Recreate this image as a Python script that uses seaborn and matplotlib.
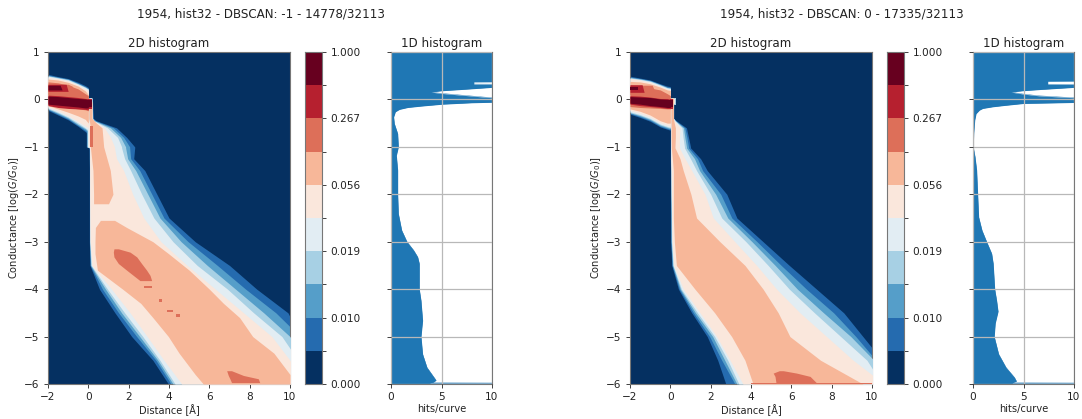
import numpy as np
import matplotlib
matplotlib.use("Agg")
import matplotlib.pyplot as plt
from matplotlib.colors import ListedColormap, to_hex
import seaborn as sns

# ---------- shared ----------
BAND_TICKS = ["0.000", "0.010", "0.019", "0.056", "0.267", "1.000"]
TITLES = ["1954, hist32 - DBSCAN: -1 - 14778/32113", "1954, hist32 - DBSCAN: 0 - 17335/32113"]
HEAD_X = [-2, -1.5, -1, -0.5, -0.15, 0]
TAIL_C = [.03, -.4, -.45, -.6, -.8, -1, -1.02, -1.25, -1.5, -2, -2.5, -3, -3.5, -4, -4.5, -5, -5.5, -6]

# ---------- left panel: upper blob, level -> (upper edge, lower edge) ----------
A_HEAD = {
    1: ([.53, .48, .44, .36, .29, .25], [-.23, -.33, -.43, -.57, -.68, -.75]),
    2: ([.51, .47, .43, .34, .27, .23], [-.21, -.31, -.41, -.55, -.65, -.72]),
    3: ([.50, .46, .42, .33, .26, .22], [-.20, -.29, -.39, -.53, -.62, -.68]),
    4: ([.49, .45, .41, .32, .25, .21], [-.18, -.27, -.37, -.50, -.60, -.65]),
    5: ([.47, .44, .39, .30, .22, .18], [-.16, -.24, -.34, -.47, -.56, -.60]),
    6: ([.43, .41, .36, .28, .18, .10], [-.13, -.20, -.27, -.35, -.42, -.50]),
    7: ([.37, .35, .30, .22, .12, .08], [-.10, -.15, -.17, -.20, -.22, -.24]),
    8: ([.09, .08, .06, .04, .02, .01], [-.13, -.17, -.19, -.20, -.21, -.22]),
    9: ([.07, .06, .04, .02, .01, .00], [-.10, -.12, -.14, -.16, -.18, -.18]),
}
# ---------- left panel: tail, level -> (left edge, right edge) ----------
A_TAIL = {
    1: ([0, 0, -.02, -.1, -.1, -.1, .04, .05, .05, .05, .05, .05, .08, .55, 1.32, 2.15, 3.2, 3.97],
        [.2, .25, .4, 1.4, 1.9, 2.3, 2.3, 2.25, 2.8, 3.4, 4.0, 5.3, 7.0, 8.35, 9.9, 10.5, 10.5, 10.5]),
    2: ([.01, .01, 0, -.08, -.08, -.08, .05, .05, .06, .06, .06, .06, .1, .7, 1.5, 2.4, 3.35, 4.1],
        [.19, .22, .35, 1.25, 1.75, 2.05, 2.05, 2.1, 2.55, 3.15, 3.75, 4.95, 6.4, 7.8, 9.3, 10.5, 10.5, 10.5]),
    3: ([.02, .02, .01, -.06, -.06, -.06, .06, .06, .06, .06, .07, .07, .12, .85, 1.65, 2.55, 3.45, 4.2],
        [.18, .21, .3, 1.1, 1.6, 1.85, 1.85, 1.95, 2.35, 2.95, 3.55, 4.6, 5.9, 7.3, 8.7, 10.0, 10.5, 10.5]),
    4: ([.03, .03, .02, -.04, -.04, -.04, .06, .06, .07, .07, .07, .08, .15, .95, 1.8, 2.7, 3.55, 4.3],
        [.17, .2, .27, .95, 1.45, 1.65, 1.65, 1.8, 2.1, 2.65, 3.25, 4.2, 5.4, 6.9, 8.2, 9.6, 10.4, 10.4]),
    5: ([.04, .04, .03, 0, 0, 0, .07, .07, .07, .07, .08, .09, .18, 1.15, 2.07, 2.92, 3.75, 4.63],
        [.16, .19, .25, .8, 1.1, 1.3, 1.3, 1.4, 1.75, 2.2, 2.75, 3.6, 4.9, 6.3, 7.7, 9.1, 10.0, 10.5]),
}
# free-standing patches: (level, conductance, left edge, right edge)
A_PATCHES = [
    (6, [-.05, -.4, -.5, -.6, -1, -1.5, -2, -2.2], [.03, .03, .07, .1, .1, .23, .26, .26], [.18, .18, .4, .68, .76, 1.09, 1.22, 1.0]),
    (6, [-2.55, -2.7, -3, -3.25, -3.6, -4, -4.3, -4.6, -5, -5.35, -5.8, -6],
        [.6, .35, .33, .33, .45, 1.7, 2.6, 3.2, 3.97, 4.5, 5.3, 5.7], [1.3, 1.9, 3.2, 3.97, 5.0, 6.0, 6.7, 7.5, 8.15, 9.2, 10, 10]),
    (7, [-.55, -1], [.07, .07], [.23, .23]),
    (7, [-3.15, -3.22, -3.32, -3.46, -3.6, -3.71, -3.82], [1.27, 1.24, 1.27, 1.49, 1.9, 2.23, 2.56], [1.49, 2.07, 2.4, 2.64, 2.89, 3.06, 3.14]),
    (7, [-3.94, -3.98], [2.76, 2.76], [3.14, 3.14]),
    (7, [-4.21, -4.27], [3.49, 3.49], [3.65, 3.65]),
    (7, [-4.44, -4.48], [3.88, 3.88], [4.2, 4.2]),
    (7, [-4.52, -4.58], [4.35, 4.35], [4.55, 4.55]),
    (7, [-5.72, -5.82, -5.89, -5.97], [6.86, 6.94, 7.02, 7.1], [7.1, 7.69, 8.43, 8.5]),
    (7, [.32, .28, .1], [-2, -2, -2], [-1.0, -.8, -.6]),
    (8, [.32, .17], [-2, -2], [-1.1, -1.0]),
    (9, [.30, .20], [-2, -2], [-1.4, -1.3]),
    (8, [.0, -.2], [0, 0], [.2, .2]),
    (9, [-.01, -.17], [0, 0], [.2, .2]),
]

# ---------- right panel ----------
B_HEAD = {
    1: ([.49, .45, .41, .33, .28, .27], [-.31, -.38, -.46, -.58, -.63, -.65]),
    2: ([.47, .44, .40, .32, .26, .25], [-.29, -.36, -.44, -.56, -.61, -.63]),
    3: ([.46, .43, .39, .31, .25, .24], [-.28, -.34, -.42, -.54, -.59, -.61]),
    4: ([.45, .42, .38, .30, .24, .23], [-.26, -.32, -.40, -.52, -.57, -.59]),
    5: ([.44, .41, .36, .28, .22, .21], [-.23, -.29, -.37, -.49, -.54, -.57]),
    6: ([.38, .37, .33, .26, .20, .19], [-.20, -.25, -.33, -.45, -.50, -.50]),
    7: ([.30, .28, .24, .20, .12, .08], [-.15, -.17, -.18, -.19, -.20, -.20]),
    8: ([.08, .07, .05, .02, .02, .00], [-.10, -.13, -.15, -.17, -.19, -.19]),
    9: ([.06, .05, .04, .01, .00, .00], [-.08, -.10, -.13, -.15, -.17, -.17]),
}
B_TAIL = {
    1: ([0, 0, 0, 0, 0, 0, 0, 0, .01, .01, .02, .02, .07, .4, 1.06, 1.83, 2.35, 2.75],
        [.16, .16, .3, .8, .9, 1.0, 1.0, 1.5, 1.83, 2.8, 3.3, 4.6, 5.9, 7.25, 8.6, 9.55, 10.5, 10.5]),
    2: ([.01, .01, .01, .01, .01, .01, .01, .01, .02, .02, .03, .03, .09, .45, 1.15, 1.95, 2.55, 3.2],
        [.16, .16, .27, .72, .82, .9, .9, 1.35, 1.6, 2.5, 3.05, 4.3, 5.5, 6.75, 8.1, 9.2, 10.2, 10.5]),
    3: ([.02, .02, .02, .02, .02, .02, .02, .02, .03, .03, .04, .05, .12, .5, 1.25, 2.1, 2.7, 3.3],
        [.16, .16, .25, .65, .72, .8, .8, 1.2, 1.45, 2.25, 2.85, 4.05, 5.2, 6.3, 7.6, 8.95, 10.1, 10.5]),
    4: ([.02, .02, .02, .02, .02, .02, .02, .02, .04, .05, .06, .07, .14, .55, 1.35, 2.2, 2.85, 3.4],
        [.16, .16, .23, .58, .63, .7, .7, 1.0, 1.3, 2.0, 2.55, 3.75, 4.85, 5.9, 7.15, 8.45, 9.75, 10.5]),
    5: ([.03, .03, .03, .03, .03, .03, .03, .03, .04, .05, .07, .09, .18, .64, 1.47, 2.3, 2.96, 3.6],
        [.15, .15, .2, .48, .45, .45, .45, .73, 1.06, 1.72, 2.13, 3.2, 4.28, 5.27, 6.43, 7.75, 9.07, 10.6]),
    6: ([.03, .03, .03, .04, .04, .05, .05, .1, .15, .15, .15, .2, .3, 1.22, 2.2, 3.04, 3.7, 4.1],
        [.15, .15, .17, .25, .25, .23, .23, .48, .64, 1.02, 1.3, 2.46, 3.7, 4.6, 5.35, 5.93, 7.45, 9.55]),
}
B_PATCHES = [
    (7, [-5.72, -5.77, -5.84, -5.98], [5.4, 5.1, 5.19, 5.24], [5.6, 6.26, 6.93, 7.26]),
    (7, [-5.97, -6], [4.0, 4.0], [10, 10]),
    (7, [.3, .1], [-2, -2], [-.9, -.7]),
    (8, [.31, .15], [-2, -2], [-1.4, -1.3]),
    (9, [.27, .20], [-2, -2], [-1.6, -1.6]),
    (3, [.02, -.12], [.1, .1], [.3, .3]),
    (5, [.01, -.10], [.1, .1], [.22, .22]),
    (8, [.0, -.2], [0, 0], [.15, .15]),
    (9, [-.01, -.17], [0, 0], [.15, .15]),
]

# ---------- 1-D histograms: conductance, hits/curve ----------
A_HIST_C = [1, .373, .37, .324, .32, .27, .254, .21, .183, .155, .127, .09, .035, .03, -.05, -.07, -.1, -.14, -.17, -.21, -.26,
            -.37, -.51, -.72, -1, -1.18, -1.49, -1.99, -2.41, -2.76, -3, -3.18, -3.32, -3.46, -4, -4.24, -4.66, -5,
            -5.37, -5.65, -5.92, -5.96, -5.975, -5.98, -6]
A_HIST_X = [12, 12, 8.2, 8.2, 12, 12, 10, 7, 5, 3.96, 5, 7, 10, 12, 12, 8, 5.1, 3, 1.65, .83, .43,
            .26, .33, .66, .73, .53, .66, .66, .73, 1.06, 1.58, 2.24, 2.64, 2.8, 2.8, 2.97, 3.13, 2.97,
            3.13, 3.56, 4.46, 4.2, 3.8, 12, 12]
B_HIST_C = [1, .39, .385, .32, .315, .27, .254, .21, .183, .155, .113, .077, .035, .03, -.056, -.085, -.127, -.155, -.19, -.226,
            -.3, -.437, -.72, -1, -1.21, -1.49, -1.99, -2.48, -2.76, -3, -3.25, -3.46, -4, -4.24, -4.47, -4.72, -5,
            -5.37, -5.65, -5.86, -5.94, -5.975, -5.98, -6]
B_HIST_X = [12, 12, 7.4, 7.4, 12, 12, 10, 6.7, 4.9, 3.76, 5, 6.5, 10, 12, 12, 5, 3.1, 1.95, .96, .63,
            .3, .17, .07, .02, .2, .36, .46, .56, .89, 1.35, 1.85, 2.0, 2.15, 2.34, 2.48, 2.2, 2.1,
            2.54, 3.27, 4.1, 4.3, 3.86, 12, 12]

W, H = 1082, 419
BASE = plt.get_cmap("RdBu_r", 10)
LEVELS = [to_hex(BASE(i)) for i in range(10)]
TXT = "#222222"
EDGE = "#777777"
plt.rcParams.update({"font.family": "DejaVu Sans", "font.size": 7.6, "text.color": TXT,
                     "axes.labelcolor": TXT, "xtick.color": TXT, "ytick.color": TXT,
                     "xtick.labelsize": 7.6, "ytick.labelsize": 7.6, "axes.labelsize": 7.1,
                     "axes.titlesize": 8.6, "axes.edgecolor": EDGE, "axes.linewidth": 0.8,
                     "xtick.major.size": 2.6, "ytick.major.size": 2.6,
                     "xtick.major.width": 0.6, "ytick.major.width": 0.6})
fig = plt.figure(figsize=(W / 100, H / 100), dpi=100)


def box(x0, x1, y0=52, y1=384):
    return fig.add_axes([x0 / W, 1 - y1 / H, (x1 - x0) / W, (y1 - y0) / H])


def panel(x0, head, tail, patches, hist_c, hist_x):
    # 2-D histogram
    ax = box(x0, x0 + 242)
    ax.set_facecolor(LEVELS[0])
    for level in sorted(tail):
        left, right = tail[level]
        ax.fill_betweenx(TAIL_C, left, right, color=LEVELS[level], lw=0, zorder=level)
    for level in sorted(head):
        upper, lower = head[level]
        ax.fill_between(HEAD_X, lower, upper, color=LEVELS[level], lw=0, zorder=level + .1)
    for level, cond, left, right in patches:
        ax.fill_betweenx(cond, left, right, color=LEVELS[level], lw=0, zorder=level + .2)
    ax.set_xlim(-2, 10)
    ax.set_ylim(-6, 1)
    ax.set_xticks(range(-2, 11, 2))
    ax.set_yticks(range(-6, 2))
    ax.set_xlabel("Distance [Å]", labelpad=1.0)
    ax.set_ylabel(r"Conductance [log($G/G_0$)]", labelpad=2)
    ax.set_title("2D histogram", pad=3.5)

    # colour bar
    cax = box(x0 + 257, x0 + 274)
    sns.heatmap(np.arange(10).reshape(10, 1), ax=cax, cmap=ListedColormap(LEVELS), cbar=False,
                xticklabels=False, yticklabels=False)
    cax.set_ylim(0, 10)
    cax.yaxis.tick_right()
    cax.set_yticks(range(0, 11, 2), BAND_TICKS, rotation=0)
    cax.set_yticks(range(1, 10, 2), minor=True)
    cax.tick_params(axis="y", which="minor", length=2.6, width=.6)
    for s in cax.spines.values():
        s.set_visible(True)

    # 1-D histogram
    hax = box(x0 + 343, x0 + 444)
    hax.fill_betweenx(hist_c, 0, hist_x, color="#1f77b4", lw=0, zorder=1)
    sns.lineplot(x=hist_x, y=hist_c, orient="y", sort=False, estimator=None, color="#1f77b4", lw=.3, ax=hax, zorder=1.5)
    hax.set_xlim(0, 10)
    hax.set_ylim(-6, 1)
    hax.set_xticks([0, 5, 10])
    hax.set_yticks(range(-6, 2))
    hax.set_yticklabels([])
    hax.grid(True, color="#b8b8b8", lw=.9, zorder=2)
    hax.set_axisbelow(False)
    hax.set_xlabel("hits/curve", labelpad=1.0)
    hax.set_title("1D histogram", pad=3.5)


panel(48, A_HEAD, A_TAIL, A_PATCHES, A_HIST_C, A_HIST_X)
panel(630, B_HEAD, B_TAIL, B_PATCHES, B_HIST_C, B_HIST_X)
fig.text(261 / W, 1 - 14 / H, TITLES[0], ha="center", va="center", fontsize=8.6)
fig.text(842 / W, 1 - 14 / H, TITLES[1], ha="center", va="center", fontsize=8.6)
fig.savefig("out.png", dpi=100)
